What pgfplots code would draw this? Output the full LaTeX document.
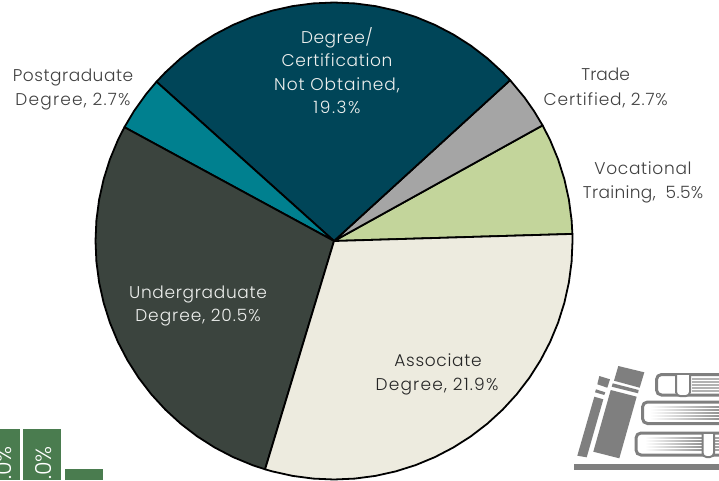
\documentclass[border=0pt]{standalone}
\usepackage{fontspec}
\setmainfont{Poppins Light}
\usepackage{pgfplots}
\pgfplotsset{compat=1.18}
\usepgfplotslibrary{polar}
\definecolor{cDeg}{HTML}{004558}
\definecolor{cPost}{HTML}{00808F}
\definecolor{cUnd}{HTML}{3B443E}
\definecolor{cAss}{HTML}{EDEBDF}
\definecolor{cVoc}{HTML}{C3D59B}
\definecolor{cTra}{HTML}{A5A5A5}
\definecolor{cBar}{HTML}{4A7C4F}
\definecolor{cBook}{HTML}{7F7F7F}
\definecolor{cTxt}{HTML}{404040}
\definecolor{cLite}{HTML}{EEF0EE}
\pgfplotsset{base/.style={scale only axis,width=719pt,height=480pt,hide axis,clip=true,at={(0pt,0pt)},anchor=south west}}
\begin{document}
\begin{tikzpicture}
% pixel-space axis: green bars beneath
\begin{axis}[base,xmin=0,xmax=719,ymin=0,ymax=480,y dir=reverse]
\addplot[fill=cBar,draw=none] coordinates {(0,429) (19.5,429) (19.5,480) (0,480)} --cycle;
\addplot[fill=cBar,draw=none] coordinates {(23,429) (61,429) (61,480) (23,480)} --cycle;
\addplot[fill=cBar,draw=none] coordinates {(65,469) (103,469) (103,480) (65,480)} --cycle;
% thin books
\addplot[fill=cBook,draw=none] coordinates {(599.3,376) (610,379.3) (607.3,387.7) (597.3,384.3)} --cycle;
\addplot[fill=cBook,draw=none] coordinates {(596,389.3) (605.3,392.3) (604.3,395) (595,392.3)} --cycle;
\addplot[fill=cBook,draw=none] coordinates {(594.3,396.7) (603.3,399.3) (586.7,457.3) (577.3,455.7)} --cycle;
\addplot[fill=cBook,draw=none] coordinates {(618.3,366) (644.3,372.3) (639.7,387.7) (614,380.7)} --cycle;
\addplot[fill=cBook,draw=none] coordinates {(612.7,383.3) (638.7,390) (638,393.3) (611.7,386.7)} --cycle;
\addplot[fill=cBook,draw=none] coordinates {(610.7,390) (636.7,396.7) (619.3,458.3) (593.3,451.7)} --cycle;
% shelf
\addplot[fill=cBook,draw=none] coordinates {(573.5,463.5) (719,463.5) (719,469.5) (573.5,469.5)} --cycle;
% stripes with gradient
\pgfplotsinvokeforeach{407,410,413,416,419}{
\addplot[draw=none,left color=white,right color=cBook!85] coordinates {(650,#1-0.8) (719,#1-0.8) (719,#1+0.8) (650,#1+0.8)} --cycle;
}
\pgfplotsinvokeforeach{438,441,444,447,450}{
\addplot[draw=none,left color=white,right color=cBook!85] coordinates {(645,#1-0.8) (702,#1-0.8) (702,#1+0.8) (645,#1+0.8)} --cycle;
\addplot[draw=none,fill=cBook!70] coordinates {(714,#1-0.8) (719,#1-0.8) (719,#1+0.8) (714,#1+0.8)} --cycle;
}
\pgfplotsinvokeforeach{379,382,385,388,391}{
\addplot[draw=none,fill=cBook!60] coordinates {(692,#1-0.8) (719,#1-0.8) (719,#1+0.8) (692,#1+0.8)} --cycle;
}
% book outlines
\addplot[draw=cBook,line width=3pt,rounded corners=5pt] coordinates {(720,374.5) (656.5,374.5) (656.5,395) (720,395)};
\addplot[draw=cBook,line width=3pt,rounded corners=5pt] coordinates {(720,402) (642.5,402) (642.5,423.5) (720,423.5)};
\addplot[draw=cBook,line width=3pt,rounded corners=5pt] coordinates {(720,433) (636,433) (636,455) (720,455)};
% bookmarks
\addplot[draw=cBook,fill=white,line width=2pt,rounded corners=4pt] coordinates {(676,375) (676,396) (690,396) (690,375)};
\addplot[draw=cBook,fill=white,line width=2pt,rounded corners=4pt] coordinates {(702.5,434) (702.5,457) (714,457) (714,434)};
\end{axis}
% pie
\begin{axis}[base,xmin=-334,xmax=385,ymin=-239,ymax=241]
\addplot[data cs=polar,fill=cVoc,draw=black,line width=1.8pt,line join=round] coordinates {(0,0) (1.7,238.5) (5,238.5) (10,238.5) (15,238.5) (20,238.5) (25,238.5) (29,238.5)} --cycle;
\addplot[data cs=polar,fill=cTra,draw=black,line width=1.8pt,line join=round] coordinates {(0,0) (29,238.5) (33,238.5) (37,238.5) (42.4,238.5)} --cycle;
\addplot[data cs=polar,fill=cDeg,draw=black,line width=1.8pt,line join=round] coordinates {(0,0) (42.4,238.5) (45,238.5) (50,238.5) (55,238.5) (60,238.5) (65,238.5) (70,238.5) (75,238.5) (80,238.5) (85,238.5) (90,238.5) (95,238.5) (100,238.5) (105,238.5) (110,238.5) (115,238.5) (120,238.5) (125,238.5) (130,238.5) (135,238.5) (138.1,238.5)} --cycle;
\addplot[data cs=polar,fill=cPost,draw=black,line width=1.8pt,line join=round] coordinates {(0,0) (138.1,238.5) (142,238.5) (147,238.5) (151.5,238.5)} --cycle;
\addplot[data cs=polar,fill=cUnd,draw=black,line width=1.8pt,line join=round] coordinates {(0,0) (151.5,238.5) (155,238.5) (160,238.5) (165,238.5) (170,238.5) (175,238.5) (180,238.5) (185,238.5) (190,238.5) (195,238.5) (200,238.5) (205,238.5) (210,238.5) (215,238.5) (220,238.5) (225,238.5) (230,238.5) (235,238.5) (240,238.5) (245,238.5) (250,238.5) (253.2,238.5)} --cycle;
\addplot[data cs=polar,fill=cAss,draw=black,line width=1.8pt,line join=round] coordinates {(0,0) (253.2,238.5) (255,238.5) (260,238.5) (265,238.5) (270,238.5) (275,238.5) (280,238.5) (285,238.5) (290,238.5) (295,238.5) (300,238.5) (305,238.5) (310,238.5) (315,238.5) (320,238.5) (325,238.5) (330,238.5) (335,238.5) (340,238.5) (345,238.5) (350,238.5) (355,238.5) (360,238.5) (361.7,238.5)} --cycle;
\end{axis}
% labels in pixel space
\begin{axis}[base,xmin=0,xmax=719,ymin=0,ymax=480,y dir=reverse,clip=false]
\newcommand{\lab}[5]{\node[anchor=base,inner sep=0pt,text=#1,font=\fontsize{17}{19}\selectfont\addfontfeature{LetterSpace=#4}] at (axis cs:#2,#3) {#5};}
\lab{cTxt}{73}{81.7}{3}{Postgraduate}
\lab{cTxt}{73}{105}{7}{Degree, 2.7\%}
\lab{cLite}{337}{43}{3}{Degree/}
\lab{cLite}{337}{66.5}{4}{Certification}
\lab{cLite}{337}{90}{5.5}{Not Obtained,}
\lab{cLite}{337}{113.5}{9}{19.3\%}
\lab{cTxt}{605.7}{80.7}{0}{Trade}
\lab{cTxt}{605.7}{105}{5}{Certified, 2.7\%}
\lab{cTxt}{643}{174}{4}{Vocational}
\lab{cTxt}{643}{198.3}{2}{Training,\ \ 5.5\%}
\lab{cLite}{198}{298.3}{4}{Undergraduate}
\lab{cLite}{198}{321.7}{5.5}{Degree, 20.5\%}
\lab{black!85}{438}{366.7}{4}{Associate}
\lab{black!85}{437}{390}{7}{Degree, 21.9\%}
\begin{scope}
\clip (axis cs:0,420) rectangle (axis cs:110,480);
\node[rotate=90,anchor=base west,inner sep=0pt,text=white,font=\fontsize{22}{24}\selectfont] at (axis cs:12,480) {.0\%};
\node[rotate=90,anchor=base west,inner sep=0pt,text=white,font=\fontsize{22}{24}\selectfont] at (axis cs:51,480) {.0\%};
\end{scope}
\end{axis}
\pgfresetboundingbox
\useasboundingbox (0pt,0pt) rectangle (719pt,480pt);
\end{tikzpicture}
\end{document}
